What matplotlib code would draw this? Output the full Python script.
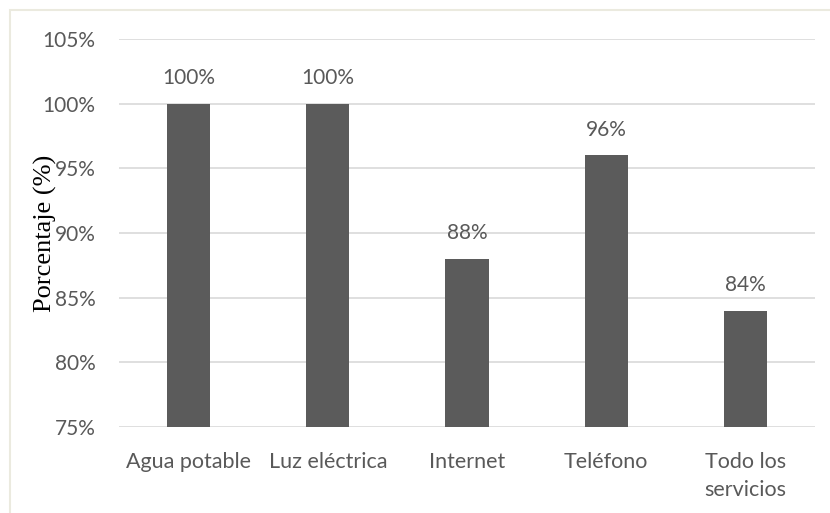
import matplotlib
matplotlib.use("Agg")
import matplotlib.pyplot as plt
from matplotlib.patches import Rectangle
from matplotlib.ticker import FuncFormatter

categories = ["Agua potable", "Luz eléctrica", "Internet", "Teléfono", "Todo los\nservicios"]
values = [100, 100, 88, 96, 84]
labels = ["100%", "100%", "88%", "96%", "84%"]
yticks = [75, 80, 85, 90, 95, 100, 105]

fig = plt.figure(figsize=(8.3, 5.13), dpi=100)
fig.patch.set_facecolor("white")
fig.patches.append(Rectangle((10/830, -0.1), 1.2, 1 - 10/513 + 0.1, transform=fig.transFigure,
                             fill=False, edgecolor="#ebeadf", linewidth=1.5))

ax = fig.add_axes([119/830, 1 - 427/513, (815 - 119)/830, (427 - 39)/513])
x = list(range(len(categories)))
ax.bar(x, [v - 75 for v in values], bottom=75, width=0.31, color="#5b5b5b", zorder=3)
ax.set_ylim(75, 105)
ax.set_xlim(-0.5, len(categories) - 0.5)
ax.set_yticks(yticks)
ax.yaxis.set_major_formatter(FuncFormatter(lambda v, p: f"{int(v)}%"))
ax.set_xticks(x)
ax.set_xticklabels(categories, linespacing=1.5)
ax.grid(axis="y", color="#d9d9d9", linewidth=1.2, zorder=0)
for s in ax.spines.values():
    s.set_visible(False)
ax.tick_params(axis="both", length=0, labelcolor="#595959", labelsize=15)
for t in ax.get_xticklabels():
    t.set_family("Lato")
    t.set_fontsize(15.5)
for t in ax.get_yticklabels():
    t.set_family("Lato")
ax.tick_params(axis="x", pad=18)
ax.tick_params(axis="y", pad=17)
for xi, v, lab in zip(x, values, labels):
    ax.text(xi, v + 1.2, lab, ha="center", va="bottom", fontsize=15, color="#595959", family="Lato")
fig.text(45/830, 1 - 233/513, "Porcentaje (%)", rotation=90, ha="center", va="center",
         fontsize=19, family="Liberation Serif", color="black")
fig.savefig("out.png", dpi=100)
